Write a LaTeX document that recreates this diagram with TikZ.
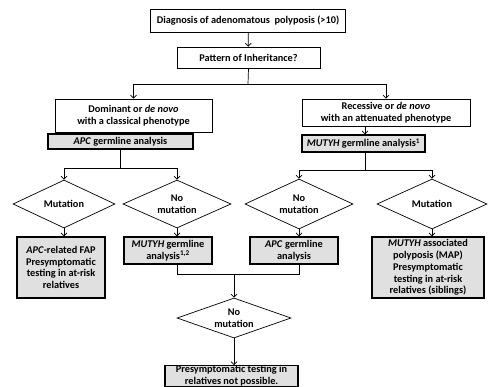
\documentclass[tikz,border=0pt]{standalone}
\usepackage{fontspec}
\setmainfont{Carlito}
\usetikzlibrary{shapes.geometric,arrows.meta}
\begin{document}
\begin{tikzpicture}[x=1pt,y=-1pt,
  every node/.style={font=\bfseries\fontsize{10.3}{11.8}\selectfont, align=center, inner sep=0pt},
  plainbox/.style={draw, line width=0.7pt, fill=white},
  shadebox/.style={draw, line width=1.1pt, fill=gray!24},
  dia/.style={draw, line width=0.7pt, diamond, aspect=2.2},
  conn/.style={line width=0.7pt},
  arr/.style={line width=0.7pt, -{Straight Barb[length=3pt,width=6pt]}}]
\useasboundingbox (0,0) rectangle (489,386);
% nodes
\node[plainbox, minimum width=195pt, minimum height=23pt] (diag) at (248,20.5) {Diagnosis of adenomatous\ \ polyposis (>10)};
\node[plainbox, minimum width=143pt, minimum height=21pt] (pat) at (248.5,57.5) {Pattern of Inheritance?};
\node[plainbox, minimum width=157pt, minimum height=33pt] (dom) at (133.5,115.5) {Dominant or \textit{de novo}\\with a classical phenotype};
\node[shadebox, minimum width=145pt, minimum height=15pt] (apc1) at (120.5,141.5) {\textit{APC} germline analysis};
\node[plainbox, minimum width=168pt, minimum height=27pt] (rec) at (386,112.5) {Recessive or \textit{de novo}\\with an attenuated phenotype};
\node[shadebox, minimum width=123pt, minimum height=17pt] (mut1) at (363.5,143.5) {\textit{MUTYH} germline analysis\textsuperscript{1}};
\node[dia, minimum width=102pt, minimum height=48pt] (d1) at (64,204) {Mutation};
\node[dia, minimum width=108pt, minimum height=48pt] (d2) at (177,204) {No\\mutation};
\node[dia, minimum width=108pt, minimum height=50pt] (d3) at (299,204) {No\\mutation};
\node[dia, minimum width=110pt, minimum height=50pt] (d4) at (432,204) {Mutation};
\node[shadebox, minimum width=88pt, minimum height=61pt] (b1) at (61,267.5) {\textit{APC}-related FAP\\Presymptomatic\\testing in at-risk\\relatives};
\node[shadebox, minimum width=88pt, minimum height=27pt] (b2) at (168,250.5) {\textit{MUTYH} germline\\analysis\textsuperscript{1,2}};
\node[shadebox, minimum width=88pt, minimum height=27pt] (b3) at (294,250.5) {\textit{APC} germline\\analysis};
\node[shadebox, minimum width=112pt, minimum height=61pt] (b4) at (428,267.5) {\textit{MUTYH} associated\\polyposis (MAP)\\Presymptomatic\\testing in at-risk\\relatives (siblings)};
\node[dia, minimum width=114pt, minimum height=40pt] (d5) at (234,318) {No\\mutation};
\node[shadebox, minimum width=133pt, minimum height=18pt] (b5) at (231.5,376) {Presymptomatic testing in\\relatives not possible.};
% junction coordinates
\coordinate (j1) at (248,84);
\coordinate (j2) at (120,168);
\coordinate (j3) at (365,170);
\coordinate (j4) at (234,274);
% connectors
\draw[arr] (diag) -- (pat);
\draw[conn] (pat.south) -- (j1);
\draw[arr] (j1) -| (dom.north);
\draw[arr] (j1) -| (rec.north);
\draw[conn] (apc1.south -| j2) -- (j2);
\draw[arr] (j2) -| (d1.north);
\draw[arr] (j2) -| (d2.north);
\draw[arr] (rec.south -| j3) -- (mut1.north -| j3);
\draw[conn] (mut1.south -| j3) -- (j3);
\draw[arr] (j3) -| (d3.north);
\draw[arr] (j3) -| (d4.north);
\draw[arr] (d1.south) -- (d1.south |- b1.north);
\draw[arr] (d2.south) -- (d2.south |- b2.north);
\draw[arr] (d3.south) -- (d3.south |- b3.north);
\draw[arr] (d4.south) -- (d4.south |- b4.north);
\draw[conn] (d2.south |- b2.south) |- (j4);
\draw[conn] (d3.south |- b3.south) |- (j4);
\draw[arr] (j4) -- (d5.north);
\draw[arr] (d5.south) -- (d5.south |- b5.north);
\end{tikzpicture}
\end{document}
